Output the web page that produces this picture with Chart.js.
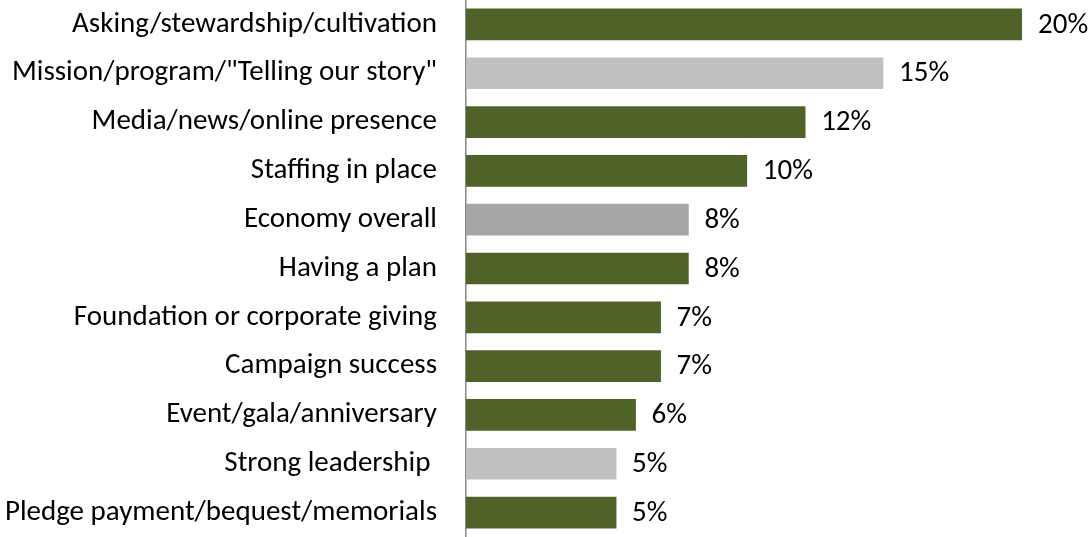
<!DOCTYPE html>
<html>
<head>
<meta charset="utf-8">
<script src="https://cdn.jsdelivr.net/npm/chart.js@4/dist/chart.umd.min.js"></script>
<style>
  html, body { margin: 0; padding: 0; background: #ffffff; }
  #wrap { width: 1089px; height: 537px; }
</style>
</head>
<body>
<div id="wrap"><canvas id="chart" width="1089" height="537"></canvas></div>
<script>
// Categories, top to bottom
const categories = [
  'Asking/stewardship/cultivation',
  'Mission/program/"Telling our story"',
  'Media/news/online presence',
  'Staffing in place',
  'Economy overall',
  'Having a plan',
  'Foundation or corporate giving',
  'Campaign success',
  'Event/gala/anniversary',
  'Strong leadership ',
  'Pledge payment/bequest/memorials'
];

// Share of responses (%)
const shares = [20.0, 15.0, 12.2, 10.1, 8.0, 8.0, 7.0, 7.0, 6.1, 5.4, 5.4];

// Fill per bar: green = internal factors, greys = others
const GREEN = '#4f6228';
const LIGHT_GREY = '#c0c0c0';
const MID_GREY = '#a6a6a6';
const barColors = [GREEN, LIGHT_GREY, GREEN, GREEN, MID_GREY, GREEN, GREEN, GREEN, GREEN, LIGHT_GREY, GREEN];

const FONT_FAMILY = 'Carlito, Lato, "Open Sans", sans-serif';
const FONT_SIZE = 29;

// Percent labels drawn just past the end of each bar
const valueLabels = {
  id: 'valueLabels',
  afterDatasetsDraw(chart) {
    const ctx = chart.ctx;
    const meta = chart.getDatasetMeta(0);
    ctx.save();
    ctx.font = FONT_SIZE + 'px ' + FONT_FAMILY;
    ctx.fillStyle = '#000000';
    ctx.textAlign = 'left';
    ctx.textBaseline = 'middle';
    meta.data.forEach((bar, i) => {
      const v = chart.data.datasets[0].data[i];
      ctx.fillText(Math.round(v) + '%', bar.x + 16, bar.y + 1);
    });
    ctx.restore();
  }
};

new Chart(document.getElementById('chart'), {
  type: 'bar',
  data: {
    labels: categories,
    datasets: [{
      data: shares,
      backgroundColor: barColors,
      borderWidth: 0,
      barThickness: 31
    }]
  },
  options: {
    indexAxis: 'y',
    responsive: false,
    animation: false,
    layout: { padding: { left: 0, right: 67, top: 0, bottom: 0 } },
    plugins: {
      legend: { display: false },
      tooltip: { enabled: false }
    },
    scales: {
      x: {
        display: false,
        min: 0,
        max: 20
      },
      y: {
        afterFit(scale) {
          scale.width = 466;
          scale.paddingTop = 0;
          scale.paddingBottom = 0;
        },
        grid: { display: false, drawTicks: false },
        border: { display: true, color: '#888888', width: 1.5 },
        ticks: {
          padding: 29,
          color: '#000000',
          font: { family: FONT_FAMILY, size: FONT_SIZE }
        }
      }
    }
  },
  plugins: [valueLabels]
});
</script>
</body>
</html>
